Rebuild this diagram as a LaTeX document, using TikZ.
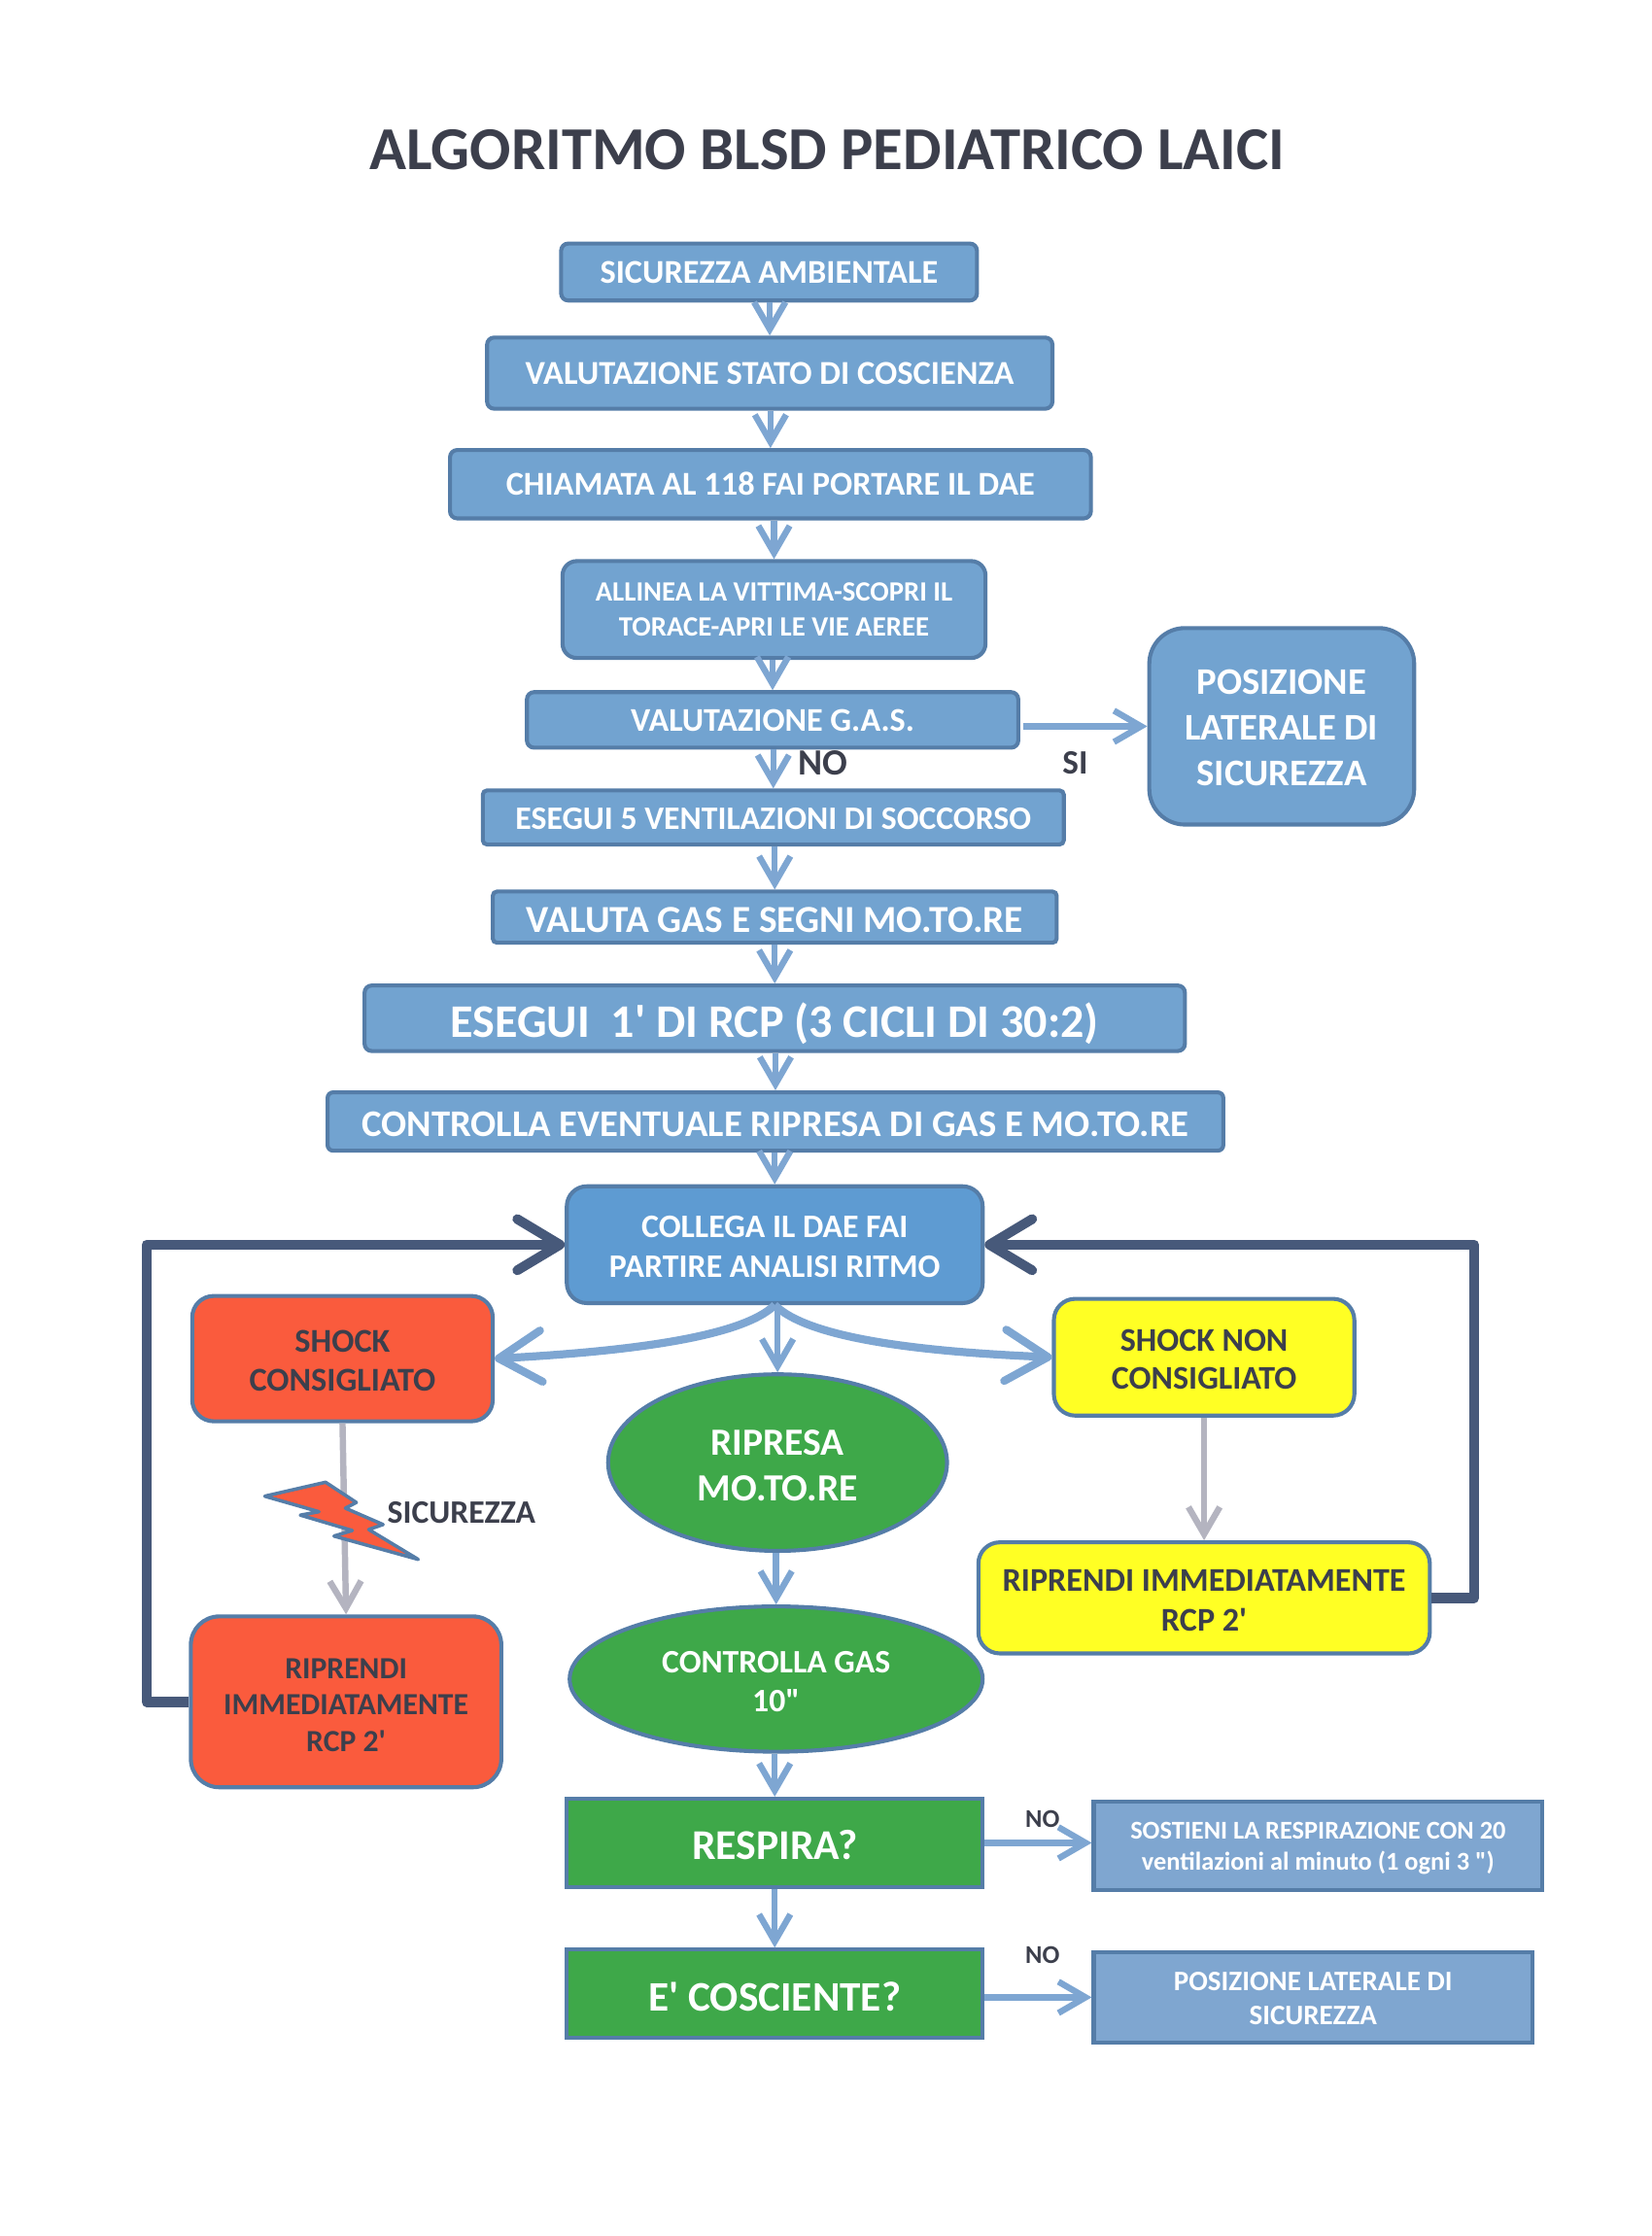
\documentclass[tikz,border=0pt]{standalone}
\usepackage{fontspec}
\newfontfamily\carl{Carlito}
\usetikzlibrary{arrows.meta,shapes.geometric,calc}
\definecolor{bluefill}{HTML}{72A3D0}
\definecolor{bluedark}{HTML}{557DA8}
\definecolor{daefill}{HTML}{5E9BD2}
\definecolor{paleblue}{HTML}{7FA6D0}
\definecolor{arrowblue}{HTML}{7EA6D2}
\definecolor{greenfill}{HTML}{3EA849}
\definecolor{redfill}{HTML}{FA5B3D}
\definecolor{yellowfill}{HTML}{FFFF24}
\definecolor{greyarrow}{HTML}{B4B4C0}
\definecolor{loopdark}{HTML}{47597A}
\definecolor{inkdark}{HTML}{3C3F4C}
\newcommand{\fsz}[1]{\carl\fontsize{#1}{#1}\selectfont\bfseries}
\newcommand{\dn}[1]{\rule{0pt}{#1em}}
\tikzset{
  x=0.5pt,y=-0.5pt,
  boxbase/.style={draw=bluedark,line width=1.4pt,align=center,inner sep=0pt,text=white},
  bluebox/.style={boxbase,fill=bluefill},
  greenbox/.style={boxbase,fill=greenfill},
  palebox/.style={boxbase,fill=paleblue},
  redbox/.style={boxbase,fill=redfill,text=inkdark},
  yellowbox/.style={boxbase,fill=yellowfill,text=inkdark},
  greenoval/.style={boxbase,ellipse,fill=greenfill},
  flow/.style={draw=arrowblue,line width=2.2pt,-{Straight Barb[length=9.5pt,width=11pt,line width=2.2pt]}},
  flowthick/.style={draw=arrowblue,line width=2.8pt,-{Straight Barb[round,length=15pt,width=18pt,line width=2.8pt]}},
  greyflow/.style={draw=greyarrow,line width=2.2pt,-{Straight Barb[length=9.5pt,width=11pt,line width=2.2pt]}},
  loopflow/.style={draw=loopdark,line width=3.6pt,line join=round,-{Straight Barb[round,length=15pt,width=18pt,line width=3.4pt]}},
  plainlabel/.style={inner sep=0pt,text=inkdark}
}
\newcommand{\boxat}[8]{%style,name,x1,x2,y1,y2,radius,text
  \node[#1,rounded corners=#7*0.5pt,minimum width={(#4-#3)*0.5pt},minimum height={(#6-#5)*0.5pt}] (#2) at ({(#3+#4)/2},{(#5+#6)/2}) {#8};}
\begin{document}
\begin{tikzpicture}
\useasboundingbox (-1,-1) rectangle (1159,1569.1);
\fill[white] (-1,-1) rectangle (1159,1569.1);
\node[plainlabel,text=inkdark] (title) at (580,104) {\fsz{21.4}ALGORITMO BLSD PEDIATRICO LAICI};
\boxat{bluebox}{s1}{393}{685}{170}{210}{5}{\fsz{11.7}SICUREZZA AMBIENTALE}
\boxat{bluebox}{s2}{341}{738}{236}{286}{5}{\fsz{11.75}VALUTAZIONE STATO DI COSCIENZA}
\boxat{bluebox}{s3}{315}{765}{315}{363}{5}{\fsz{11.7}CHIAMATA AL 118 FAI PORTARE IL DAE}
\boxat{bluebox}{s4}{394}{691}{393}{461}{10}{\fsz{9.8}ALLINEA LA VITTIMA-SCOPRI IL\\\fsz{9.8}TORACE-APRI LE VIE AEREE}
\boxat{bluebox}{s5}{369}{714}{485}{524}{5}{\fsz{11.65}\dn{0.72}VALUTAZIONE G.A.S.}
\boxat{bluebox}{pos}{806}{992}{440}{578}{25}{\fsz{13.2}\dn{0.72}POSIZIONE\\[4pt]\fsz{13.2}LATERALE DI\\[4pt]\fsz{13.2}SICUREZZA}
\boxat{bluebox}{s6}{338}{746}{554}{592}{3}{\fsz{11.5}\dn{0.72}ESEGUI 5 VENTILAZIONI DI SOCCORSO}
\boxat{bluebox}{s7}{345}{741}{625}{661}{3}{\fsz{13.4}\dn{0.8}VALUTA GAS E SEGNI MO.TO.RE}
\boxat{bluebox}{s8}{255}{831}{691}{737}{5}{\fsz{16.4}\dn{0.95}ESEGUI\ \ 1' DI RCP (3 CICLI DI 30:2)}
\boxat{bluebox}{s9}{229}{858}{766}{807}{4}{\fsz{13.2}\dn{0.8}CONTROLLA EVENTUALE RIPRESA DI GAS E MO.TO.RE}
\boxat{boxbase,fill=daefill}{dae}{397}{689}{832}{914}{14}{\fsz{11.55}\dn{0.8}COLLEGA IL DAE FAI\\[2pt]\fsz{11.55}PARTIRE ANALISI RITMO}
\boxat{redbox}{shock}{134}{345}{909}{997}{15}{\fsz{11.7}\dn{0.8}SHOCK\\[1.5pt]\fsz{11.7}CONSIGLIATO}
\boxat{yellowbox}{noshock}{739}{950}{911}{993}{15}{\fsz{11.6}\dn{0.8}SHOCK NON\\[1.5pt]\fsz{11.6}CONSIGLIATO}
\boxat{redbox}{rip}{133}{351}{1134}{1254}{20}{\fsz{10.8}\dn{0.85}RIPRENDI\\[0.75pt]\fsz{10.8}IMMEDIATAMENTE\\[0.75pt]\fsz{10.8}RCP 2'}
\boxat{yellowbox}{rnc}{686}{1003}{1082}{1160}{15}{\fsz{11.65}\dn{0.8}RIPRENDI IMMEDIATAMENTE\\[2pt]\fsz{11.65}RCP 2'}
\node[greenoval,minimum width=119pt,minimum height=62pt] (ell1) at (545,1026) {\fsz{13.5}\dn{0.8}RIPRESA\\[4pt]\fsz{13.5}MO.TO.RE};
\node[greenoval,minimum width=145pt,minimum height=51pt] (ell2) at (544,1178) {\fsz{11.5}\dn{0.8}CONTROLLA GAS\\[1.5pt]\fsz{11.5}10"};
\boxat{greenbox}{resp}{397}{689}{1262}{1324}{0}{\fsz{14.9}\dn{0.78}RESPIRA?}
\boxat{greenbox}{cosc}{397}{689}{1368}{1430}{0}{\fsz{14.75}\dn{0.82}E' COSCIENTE?}
\boxat{palebox}{sost}{767}{1082}{1264}{1326}{0}{\fsz{9}\dn{0.85}SOSTIENI LA RESPIRAZIONE CON 20\\[-1pt]\fsz{9}ventilazioni al minuto (1 ogni 3 ")}
\boxat{palebox}{pos2}{767}{1075}{1370}{1433}{0}{\fsz{9.9}\dn{0.75}POSIZIONE LATERALE DI\\\fsz{9.9}SICUREZZA}
\node[plainlabel] (lno1) at (577,535) {\fsz{13}NO};
\node[plainlabel] (lsi) at (754,535) {\fsz{12}SI};
\node[plainlabel] (lno2) at (731,1276) {\fsz{9}NO};
\node[plainlabel] (lno3) at (731,1372) {\fsz{9}NO};
\node[plainlabel] (lsic) at (323,1061) {\fsz{11.5}SICUREZZA};
\draw[flow] (s1.south -| s2.north) -- (s2.north);
\draw[flow] (s2.south -| s3.north) -- (s3.north);
\draw[flow] (s3.south -| s4.north) -- (s4.north);
\draw[flow] (s4.south -| s5.north) -- (s5.north);
\draw[flow] (s5.south -| s6.north) -- (s6.north);
\draw[flow] (s6.south -| s7.north) -- (s7.north);
\draw[flow] (s7.south -| s8.north) -- (s8.north);
\draw[flow] (s8.south -| s9.north) -- (s9.north);
\draw[flow] (s9.south -| dae.north) -- (dae.north);
\draw[flow] (s5.east |- pos.west) ++(2,0) coordinate (siStart) -- (pos.west);
\draw[flow] (dae.south -| ell1.north) -- (ell1.north);
\draw[flow] (ell1.south -| ell2.north) -- (ell2.north);
\draw[flow] (ell2.south -| resp.north) -- (resp.north);
\draw[flow] (resp.south) -- (cosc.north);
\draw[flow] (resp.east) -- (resp.east -| sost.west);
\draw[flow] (cosc.east |- pos2.west) -- (pos2.west);
\draw[flowthick] (dae.south) .. controls (520,938) and (440,948) .. (shock.east);
\draw[flowthick] (dae.south) .. controls (566,938) and (640,948) .. (noshock.west);
\draw[greyflow] (shock.south) -- (rip.north);
\draw[greyflow] (noshock.south) -- (rnc.north);
\draw[loopflow] (rip.west) -| (102,873) -- (dae.west);
\draw[loopflow] (rnc.east) -| (1034,873) -- (dae.east);
\draw[draw=bluedark,fill=redfill,line width=1.2pt,line join=round] (184.9,1049.6) -- (227.6,1039.8) -- (249.2,1054) -- (241.5,1058) -- (268,1069.5) -- (257.9,1073) -- (292.7,1094) -- (233.5,1077.6) -- (246.4,1073.7) -- (209.9,1062.9) -- (223,1060.5) -- cycle;
\end{tikzpicture}
\end{document}
